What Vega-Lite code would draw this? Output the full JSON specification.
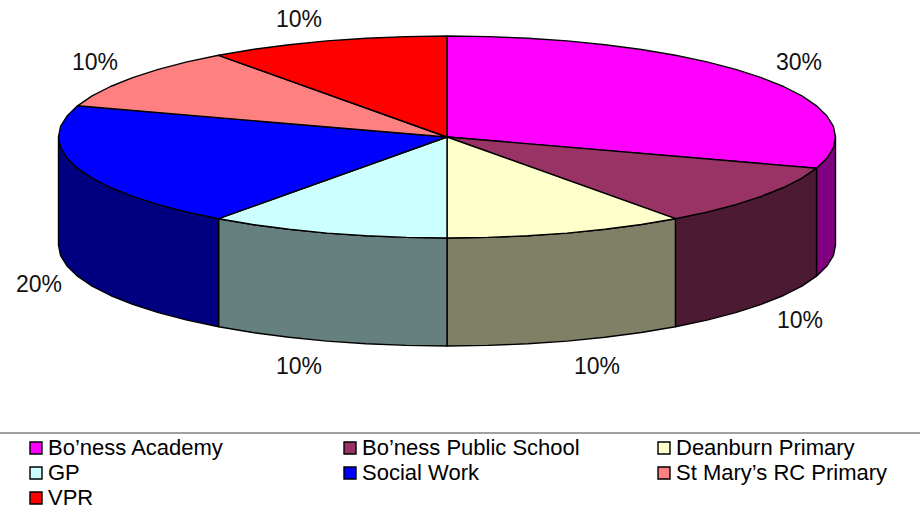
{
"$schema":"https://vega.github.io/schema/vega-lite/v6.json",
"width":920,"height":513,"padding":0,"autosize":{"type":"none"},
"background":"white",
"config":{"view":{"stroke":null},"font":"Liberation Sans"},
"datasets":{
"tops":[
{"slice":"Bo’ness Academy","i":0,"x":447,"y":137},{"slice":"Bo’ness Academy","i":1,"x":447,"y":36},{"slice":"Bo’ness Academy","i":2,"x":487.6,"y":36.6},{"slice":"Bo’ness Academy","i":3,"x":527.8,"y":38.2},{"slice":"Bo’ness Academy","i":4,"x":567.1,"y":40.9},{"slice":"Bo’ness Academy","i":5,"x":605,"y":44.7},{"slice":"Bo’ness Academy","i":6,"x":641.3,"y":49.5},{"slice":"Bo’ness Academy","i":7,"x":675.4,"y":55.3},{"slice":"Bo’ness Academy","i":8,"x":707,"y":61.9},{"slice":"Bo’ness Academy","i":9,"x":735.7,"y":69.4},{"slice":"Bo’ness Academy","i":10,"x":761.3,"y":77.6},{"slice":"Bo’ness Academy","i":11,"x":783.5,"y":86.5},{"slice":"Bo’ness Academy","i":12,"x":801.9,"y":95.9},{"slice":"Bo’ness Academy","i":13,"x":816.5,"y":105.8},{"slice":"Bo’ness Academy","i":14,"x":827,"y":116},{"slice":"Bo’ness Academy","i":15,"x":833.4,"y":126.4},{"slice":"Bo’ness Academy","i":16,"x":835.5,"y":137},{"slice":"Bo’ness Academy","i":17,"x":833.4,"y":147.6},{"slice":"Bo’ness Academy","i":18,"x":827,"y":158},{"slice":"Bo’ness Academy","i":19,"x":816.5,"y":168.2},{"slice":"Bo’ness Academy","i":20,"x":447,"y":137},
{"slice":"Bo’ness Public School","i":0,"x":447,"y":137},{"slice":"Bo’ness Public School","i":1,"x":816.5,"y":168.2},{"slice":"Bo’ness Public School","i":2,"x":801.9,"y":178.1},{"slice":"Bo’ness Public School","i":3,"x":783.5,"y":187.5},{"slice":"Bo’ness Public School","i":4,"x":761.3,"y":196.4},{"slice":"Bo’ness Public School","i":5,"x":735.7,"y":204.6},{"slice":"Bo’ness Public School","i":6,"x":707,"y":212.1},{"slice":"Bo’ness Public School","i":7,"x":675.4,"y":218.7},{"slice":"Bo’ness Public School","i":8,"x":447,"y":137},
{"slice":"Deanburn Primary","i":0,"x":447,"y":137},{"slice":"Deanburn Primary","i":1,"x":675.4,"y":218.7},{"slice":"Deanburn Primary","i":2,"x":641.3,"y":224.5},{"slice":"Deanburn Primary","i":3,"x":605,"y":229.3},{"slice":"Deanburn Primary","i":4,"x":567.1,"y":233.1},{"slice":"Deanburn Primary","i":5,"x":527.8,"y":235.8},{"slice":"Deanburn Primary","i":6,"x":487.6,"y":237.4},{"slice":"Deanburn Primary","i":7,"x":447,"y":238},{"slice":"Deanburn Primary","i":8,"x":447,"y":137},
{"slice":"GP","i":0,"x":447,"y":137},{"slice":"GP","i":1,"x":447,"y":238},{"slice":"GP","i":2,"x":406.4,"y":237.4},{"slice":"GP","i":3,"x":366.2,"y":235.8},{"slice":"GP","i":4,"x":326.9,"y":233.1},{"slice":"GP","i":5,"x":289,"y":229.3},{"slice":"GP","i":6,"x":252.7,"y":224.5},{"slice":"GP","i":7,"x":218.6,"y":218.7},{"slice":"GP","i":8,"x":447,"y":137},
{"slice":"Social Work","i":0,"x":447,"y":137},{"slice":"Social Work","i":1,"x":218.6,"y":218.7},{"slice":"Social Work","i":2,"x":187,"y":212.1},{"slice":"Social Work","i":3,"x":158.3,"y":204.6},{"slice":"Social Work","i":4,"x":132.7,"y":196.4},{"slice":"Social Work","i":5,"x":110.5,"y":187.5},{"slice":"Social Work","i":6,"x":92.1,"y":178.1},{"slice":"Social Work","i":7,"x":77.5,"y":168.2},{"slice":"Social Work","i":8,"x":67,"y":158},{"slice":"Social Work","i":9,"x":60.6,"y":147.6},{"slice":"Social Work","i":10,"x":58.5,"y":137},{"slice":"Social Work","i":11,"x":60.6,"y":126.4},{"slice":"Social Work","i":12,"x":67,"y":116},{"slice":"Social Work","i":13,"x":77.5,"y":105.8},{"slice":"Social Work","i":14,"x":447,"y":137},
{"slice":"St Mary’s RC Primary","i":0,"x":447,"y":137},{"slice":"St Mary’s RC Primary","i":1,"x":77.5,"y":105.8},{"slice":"St Mary’s RC Primary","i":2,"x":92.1,"y":95.9},{"slice":"St Mary’s RC Primary","i":3,"x":110.5,"y":86.5},{"slice":"St Mary’s RC Primary","i":4,"x":132.7,"y":77.6},{"slice":"St Mary’s RC Primary","i":5,"x":158.3,"y":69.4},{"slice":"St Mary’s RC Primary","i":6,"x":187,"y":61.9},{"slice":"St Mary’s RC Primary","i":7,"x":218.6,"y":55.3},{"slice":"St Mary’s RC Primary","i":8,"x":447,"y":137},
{"slice":"VPR","i":0,"x":447,"y":137},{"slice":"VPR","i":1,"x":218.6,"y":55.3},{"slice":"VPR","i":2,"x":252.7,"y":49.5},{"slice":"VPR","i":3,"x":289,"y":44.7},{"slice":"VPR","i":4,"x":326.9,"y":40.9},{"slice":"VPR","i":5,"x":366.2,"y":38.2},{"slice":"VPR","i":6,"x":406.4,"y":36.6},{"slice":"VPR","i":7,"x":447,"y":36},{"slice":"VPR","i":8,"x":447,"y":137}
],
"sides":[
{"slice":"Bo’ness Academy","i":0,"x":835.5,"y":137},{"slice":"Bo’ness Academy","i":1,"x":833.4,"y":147.6},{"slice":"Bo’ness Academy","i":2,"x":827,"y":158},{"slice":"Bo’ness Academy","i":3,"x":816.5,"y":168.2},{"slice":"Bo’ness Academy","i":4,"x":816.5,"y":276.2},{"slice":"Bo’ness Academy","i":5,"x":827,"y":266},{"slice":"Bo’ness Academy","i":6,"x":833.4,"y":255.6},{"slice":"Bo’ness Academy","i":7,"x":835.5,"y":245},{"slice":"Bo’ness Academy","i":8,"x":835.5,"y":137},
{"slice":"Bo’ness Public School","i":0,"x":816.5,"y":168.2},{"slice":"Bo’ness Public School","i":1,"x":801.9,"y":178.1},{"slice":"Bo’ness Public School","i":2,"x":783.5,"y":187.5},{"slice":"Bo’ness Public School","i":3,"x":761.3,"y":196.4},{"slice":"Bo’ness Public School","i":4,"x":735.7,"y":204.6},{"slice":"Bo’ness Public School","i":5,"x":707,"y":212.1},{"slice":"Bo’ness Public School","i":6,"x":675.4,"y":218.7},{"slice":"Bo’ness Public School","i":7,"x":675.4,"y":326.7},{"slice":"Bo’ness Public School","i":8,"x":707,"y":320.1},{"slice":"Bo’ness Public School","i":9,"x":735.7,"y":312.6},{"slice":"Bo’ness Public School","i":10,"x":761.3,"y":304.4},{"slice":"Bo’ness Public School","i":11,"x":783.5,"y":295.5},{"slice":"Bo’ness Public School","i":12,"x":801.9,"y":286.1},{"slice":"Bo’ness Public School","i":13,"x":816.5,"y":276.2},{"slice":"Bo’ness Public School","i":14,"x":816.5,"y":168.2},
{"slice":"Deanburn Primary","i":0,"x":675.4,"y":218.7},{"slice":"Deanburn Primary","i":1,"x":641.3,"y":224.5},{"slice":"Deanburn Primary","i":2,"x":605,"y":229.3},{"slice":"Deanburn Primary","i":3,"x":567.1,"y":233.1},{"slice":"Deanburn Primary","i":4,"x":527.8,"y":235.8},{"slice":"Deanburn Primary","i":5,"x":487.6,"y":237.4},{"slice":"Deanburn Primary","i":6,"x":447,"y":238},{"slice":"Deanburn Primary","i":7,"x":447,"y":346},{"slice":"Deanburn Primary","i":8,"x":487.6,"y":345.4},{"slice":"Deanburn Primary","i":9,"x":527.8,"y":343.8},{"slice":"Deanburn Primary","i":10,"x":567.1,"y":341.1},{"slice":"Deanburn Primary","i":11,"x":605,"y":337.3},{"slice":"Deanburn Primary","i":12,"x":641.3,"y":332.5},{"slice":"Deanburn Primary","i":13,"x":675.4,"y":326.7},{"slice":"Deanburn Primary","i":14,"x":675.4,"y":218.7},
{"slice":"GP","i":0,"x":447,"y":238},{"slice":"GP","i":1,"x":406.4,"y":237.4},{"slice":"GP","i":2,"x":366.2,"y":235.8},{"slice":"GP","i":3,"x":326.9,"y":233.1},{"slice":"GP","i":4,"x":289,"y":229.3},{"slice":"GP","i":5,"x":252.7,"y":224.5},{"slice":"GP","i":6,"x":218.6,"y":218.7},{"slice":"GP","i":7,"x":218.6,"y":326.7},{"slice":"GP","i":8,"x":252.7,"y":332.5},{"slice":"GP","i":9,"x":289,"y":337.3},{"slice":"GP","i":10,"x":326.9,"y":341.1},{"slice":"GP","i":11,"x":366.2,"y":343.8},{"slice":"GP","i":12,"x":406.4,"y":345.4},{"slice":"GP","i":13,"x":447,"y":346},{"slice":"GP","i":14,"x":447,"y":238},
{"slice":"Social Work","i":0,"x":218.6,"y":218.7},{"slice":"Social Work","i":1,"x":187,"y":212.1},{"slice":"Social Work","i":2,"x":158.3,"y":204.6},{"slice":"Social Work","i":3,"x":132.7,"y":196.4},{"slice":"Social Work","i":4,"x":110.5,"y":187.5},{"slice":"Social Work","i":5,"x":92.1,"y":178.1},{"slice":"Social Work","i":6,"x":77.5,"y":168.2},{"slice":"Social Work","i":7,"x":67,"y":158},{"slice":"Social Work","i":8,"x":60.6,"y":147.6},{"slice":"Social Work","i":9,"x":58.5,"y":137},{"slice":"Social Work","i":10,"x":58.5,"y":245},{"slice":"Social Work","i":11,"x":60.6,"y":255.6},{"slice":"Social Work","i":12,"x":67,"y":266},{"slice":"Social Work","i":13,"x":77.5,"y":276.2},{"slice":"Social Work","i":14,"x":92.1,"y":286.1},{"slice":"Social Work","i":15,"x":110.5,"y":295.5},{"slice":"Social Work","i":16,"x":132.7,"y":304.4},{"slice":"Social Work","i":17,"x":158.3,"y":312.6},{"slice":"Social Work","i":18,"x":187,"y":320.1},{"slice":"Social Work","i":19,"x":218.6,"y":326.7},{"slice":"Social Work","i":20,"x":218.6,"y":218.7}
],
"shares":[
{"slice":"Bo’ness Academy","share":0.3,"x":799,"y":63},
{"slice":"Bo’ness Public School","share":0.1,"x":800,"y":321},
{"slice":"Deanburn Primary","share":0.1,"x":597,"y":367},
{"slice":"GP","share":0.1,"x":299,"y":367},
{"slice":"Social Work","share":0.2,"x":39,"y":285},
{"slice":"St Mary’s RC Primary","share":0.1,"x":95,"y":63},
{"slice":"VPR","share":0.1,"x":299,"y":20}
]
},
"layer":[
{"data":{"name":"sides"},
 "mark":{"type":"line","filled":true,"stroke":"black","strokeWidth":1.4,"strokeJoin":"round"},
 "encoding":{
  "x":{"field":"x","type":"quantitative","scale":{"domain":[0,920],"range":[0,920]},"axis":null},
  "y":{"field":"y","type":"quantitative","scale":{"domain":[0,513],"range":[0,513]},"axis":null},
  "order":{"field":"i","type":"quantitative"},
  "fill":{"field":"slice","type":"nominal","legend":null,"scale":{
    "domain":["Bo’ness Academy","Bo’ness Public School","Deanburn Primary","GP","Social Work"],
    "range":["#800080","#4d1a33","#808066","#668080","#000080"]}}
 }},
{"data":{"name":"tops"},
 "mark":{"type":"line","filled":true,"stroke":"black","strokeWidth":1.4,"strokeJoin":"round"},
 "encoding":{
  "x":{"field":"x","type":"quantitative","scale":{"domain":[0,920],"range":[0,920]},"axis":null},
  "y":{"field":"y","type":"quantitative","scale":{"domain":[0,513],"range":[0,513]},"axis":null},
  "order":{"field":"i","type":"quantitative"},
  "fill":{"field":"slice","type":"nominal",
   "scale":{"domain":["Bo’ness Academy","Bo’ness Public School","Deanburn Primary","GP","Social Work","St Mary’s RC Primary","VPR"],
    "range":["#ff00ff","#993366","#ffffcc","#ccffff","#0000ff","#ff8080","#ff0000"]},
   "legend":{"orient":"none","legendX":25,"legendY":437,"title":null,"direction":"horizontal","columns":3,"gridAlign":"all","columnPadding":73,"rowPadding":3,"padding":0,
    "symbolType":"square","symbolSize":144,"symbolStrokeColor":"black","symbolStrokeWidth":1.4,"symbolOpacity":1,
    "labelFont":"Liberation Sans","labelFontSize":22,"labelColor":"black","labelOffset":1,"labelLimit":400}}
 }},
{"data":{"name":"shares"},
 "mark":{"type":"text","font":"Liberation Sans","fontSize":23,"color":"#111111","align":"center","baseline":"middle"},
 "encoding":{
  "x":{"field":"x","type":"quantitative","scale":{"domain":[0,920],"range":[0,920]},"axis":null},
  "y":{"field":"y","type":"quantitative","scale":{"domain":[0,513],"range":[0,513]},"axis":null},
  "text":{"field":"share","type":"quantitative","format":".0%"}
 }},
{"data":{"values":[{"y":433}]},
 "mark":{"type":"rule","color":"#808080","strokeWidth":1.5},
 "encoding":{"y":{"field":"y","type":"quantitative","scale":{"domain":[0,513],"range":[0,513]},"axis":null}}}
],
"resolve":{"scale":{"fill":"independent"}}
}
